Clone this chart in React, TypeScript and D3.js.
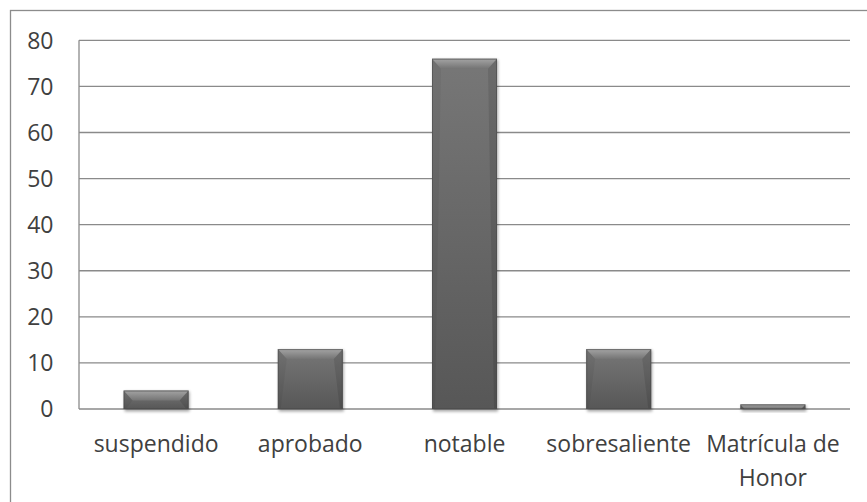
import React from "react";
import * as d3 from "d3";

const categories = ["suspendido", "aprobado", "notable", "sobresaliente", "Matrícula de Honor"];
const values = [4, 13, 76, 13, 1];
const yTicks = [0, 10, 20, 30, 40, 50, 60, 70, 80];

const W = 867;
const H = 502;
const plot = { left: 79, right: 850, top: 40.3, bottom: 409 };

function wrapLabel(s: string): string[] {
  if (s === "Matrícula de Honor") return ["Matrícula de", "Honor"];
  return [s];
}

export default function App() {
  const x = d3.scaleBand<string>().domain(categories).range([plot.left, plot.right]).paddingInner(0).paddingOuter(0);
  const y = d3.scaleLinear().domain([0, 80]).range([plot.bottom, plot.top]);
  const barW = 65;
  const font = "'Open Sans', sans-serif";
  const textColor = "#404040";

  return (
    <svg width={W} height={H} style={{ position: "absolute", left: 0, top: 0 }} viewBox={`0 0 ${W} ${H}`}>
      <defs>
        <linearGradient id="body" x1="0" y1="0" x2="0" y2="1">
          <stop offset="0" stopColor="#777777" />
          <stop offset="1" stopColor="#575757" />
        </linearGradient>
        <linearGradient id="topBevel" x1="0" y1="0" x2="0" y2="1">
          <stop offset="0" stopColor="#a4a4a4" />
          <stop offset="1" stopColor="#747474" />
        </linearGradient>
        <filter id="shadow" x="-20%" y="-20%" width="140%" height="140%">
          <feGaussianBlur stdDeviation="1.5" />
        </filter>
      </defs>
      <rect x={0} y={0} width={W} height={H} fill="#ffffff" />
      <rect x={10.5} y={10.5} width={880} height={520} fill="none" stroke="#8c8c8c" strokeWidth={1.3} />

      {yTicks.map((t) => (
        <g key={t}>
          <line x1={plot.left} x2={plot.right} y1={y(t)} y2={y(t)} stroke="#8a8a8a" strokeWidth={1.3} />
          <text x={53.5} y={y(t)} dy="0.36em" textAnchor="end" fontFamily={font} fontSize={23} fill={textColor}>
            {t}
          </text>
        </g>
      ))}
      <line x1={plot.left} x2={plot.left} y1={plot.top} y2={plot.bottom} stroke="#8a8a8a" strokeWidth={1.3} />

      {categories.map((c, i) => {
        const cx = (x(c) as number) + x.bandwidth() / 2;
        const x0 = cx - barW / 2;
        const x1 = cx + barW / 2;
        const yt = y(values[i]);
        const yb = y(0);
        const h = yb - yt;
        const bv = Math.min(10, h);
        const bx = Math.min(9, bv * 0.9);
        return (
          <g key={c}>
            <rect x={x0 + 1} y={yt + 1} width={barW} height={h + 1.5} fill="#000" opacity={0.35} filter="url(#shadow)" />
            <rect x={x0} y={yt} width={barW} height={h} fill="url(#body)" />
            <polygon points={`${x0},${yt} ${x1},${yt} ${x1 - bx},${yt + bv} ${x0 + bx},${yt + bv}`} fill="url(#topBevel)" />
            <polygon points={`${x0},${yt} ${x0 + bx},${yt + bv} ${x0 + 3},${yb - 1} ${x0},${yb}`} fill="#000" opacity={0.05} />
            <polygon points={`${x1},${yt} ${x1 - bx},${yt + bv} ${x1 - 3},${yb - 1} ${x1},${yb}`} fill="#000" opacity={0.1} />
            <rect x={x0 + 0.5} y={yt + 0.5} width={barW - 1} height={Math.max(0, h - 1)} fill="none" stroke="#4a4a4a" strokeWidth={1} opacity={0.6} />
            {wrapLabel(c).map((line, j) => (
              <text key={j} x={cx} y={451.5 + j * 34} textAnchor="middle" fontFamily={font} fontSize={23} fill={textColor}>
                {line}
              </text>
            ))}
          </g>
        );
      })}
    </svg>
  );
}
